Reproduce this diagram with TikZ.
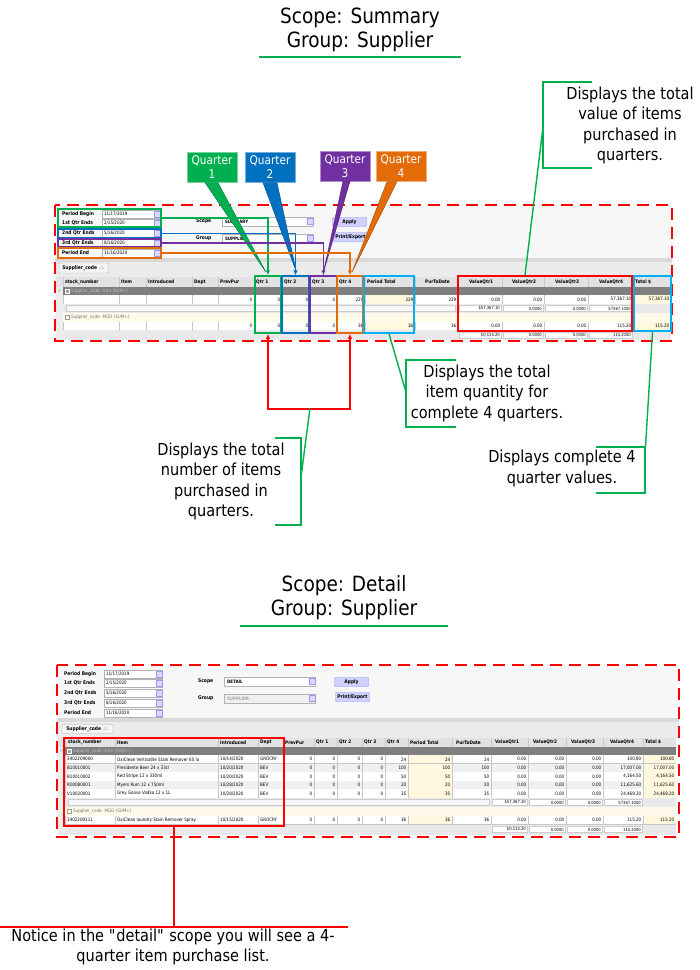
\documentclass[tikz,border=0pt]{standalone}
\usepackage{fontspec}
\setmainfont{DejaVu Sans}[FakeStretch=0.88]
\usetikzlibrary{calc}
\usetikzlibrary{arrows.meta}

\definecolor{qgreen}{HTML}{00B050}
\definecolor{qblue}{HTML}{0070C0}
\definecolor{qpurple}{HTML}{7030A0}
\definecolor{qorange}{HTML}{E36C09}
\definecolor{qcyan}{HTML}{00B0F0}
\definecolor{qred}{HTML}{FF0000}
\definecolor{panel}{HTML}{F7F7F7}
\definecolor{tabrow}{HTML}{EBEBEB}
\definecolor{hdrgray}{HTML}{E2E2E4}
\definecolor{grphead}{HTML}{7F7F7F}
\definecolor{cream}{HTML}{FFF8DF}
\definecolor{sumgray}{HTML}{E9E9EB}
\definecolor{altrow}{HTML}{F0F0F3}

% top part of the report screen: filters, scope, group, buttons
\newcommand{\filterform}[3]{%
  \foreach \y/\lab/\dat [count=\i] in {214/{Period Begin}/{11/17/2019},
      223/{1st Qtr Ends}/{2/15/2020}, 233/{2nd Qtr Ends}/{5/16/2020},
      243/{3rd Qtr Ends}/{8/16/2020}, 253/{Period End}/{11/16/2020}} {
    \node[lab] (fl\i) at (62,\y) {\lab};
    \node[field, minimum width=58, minimum height=8] (fd\i) at (131,\y) {};
    \node[cell, anchor=west] (fv\i) at ([xshift=2]fd\i.west) {\dat};
    \node[ddbtn] (fb\i) at ([xshift=-3]fd\i.east) {};
  }
  \node[lab] (sl) at (196,221) {Scope};
  \node[field, minimum width=91, minimum height=9] (sf) at (267.5,221.5) {};
  \node[cell, anchor=west, font=\fontsize{4.6}{5.5}\selectfont\bfseries] (sv) at ([xshift=3]sf.west) {#1};
  \node[ddbtn] (sb) at ([xshift=-3.5]sf.east) {};
  \node[lab] (gl) at (196,238) {Group};
  \node[field, fill=#3, minimum width=91, minimum height=9] (gf) at (267.5,238.5) {};
  \node[cell, anchor=west, font=\fontsize{4.6}{5.5}\selectfont\bfseries] (gv) at ([xshift=3]gf.west) {#2};
  \node[ddbtn] (gb) at ([xshift=-3.5]gf.east) {};
  \node[btn] (apply) at (349.5,222) {Apply};
  \node[btn] (print) at (350.5,237) {Print/Export};
}

% one detail line of the lower table
\newcommand{\drow}[8]{%
  \fill[#8] (65,#1) rectangle (676,#1+8.6);
  \fill[cream] (408,#1) rectangle (452,#1+8.6);
  \fill[cream] (643,#1) rectangle (676,#1+8.6);
  \draw[sepl] (65,#1+8.6) -- (676,#1+8.6);
  \node[cell, anchor=west] at (67,#1+4.3) {#2};
  \node[cell, anchor=west] at (117,#1+4.3) {#3};
  \node[cell, anchor=west] at (220,#1+4.3) {#4};
  \node[cell, anchor=west] at (260,#1+4.3) {#5};
  \foreach \xr/\v in {314/0, 337/0, 362/0, 385/0, 408/{#6}, 452/{#6}, 491/{#6},
      528/0.00, 566/0.00, 603/0.00, 643/{#7}, 676/{#7}}
    \node[cell, anchor=east] at (\xr-1.5,#1+4.3) {\v};
}

% boxed totals under the value columns
\newcommand{\sumboxes}[2]{%
  \foreach \xa/\xb/\v in {#2} {
    \draw[black!20, fill=white] (\xa+1,#1-3) rectangle (\xb-1,#1+3);
    \node[cell, anchor=east, font=\fontsize{4.2}{5}\selectfont] at (\xb-2,#1) {\v};
  }
}

\begin{document}
\begin{tikzpicture}[
    x=1pt, y=-1pt,
    >={Latex[length=5pt,width=4.5pt]},
    lab/.style={font=\fontsize{5}{6}\selectfont\bfseries, inner sep=0, anchor=west},
    cell/.style={font=\fontsize{4.6}{5.5}\selectfont, inner sep=0},
    hdr/.style={font=\fontsize{4.8}{5.5}\selectfont\bfseries, inner sep=0, anchor=west},
    field/.style={draw=black!30, fill=white, inner sep=0},
    ddbtn/.style={draw=blue!40, fill=blue!15, minimum size=6, inner sep=0},
    btn/.style={draw=blue!45, fill=blue!18, rounded corners=1, minimum width=34,
        minimum height=9, inner sep=0, font=\fontsize{5}{6}\selectfont\bfseries},
    sepl/.style={black!22, line width=0.4},
    qtag/.style={text=white, minimum width=50, minimum height=30, align=center,
        inner sep=0, font=\fontsize{12}{14}\selectfont},
    colbox/.style={draw=#1, line width=1.5, inner sep=0},
    frame/.style={draw=#1, line width=1.3, inner sep=0},
    qline/.style={draw=#1, line width=1.3, ->},
    brk/.style={qgreen, line width=1.4},
    redline/.style={qred, line width=1.8},
    dashbox/.style={qred, line width=2.6, dash pattern=on 12pt off 7pt},
    title/.style={align=center, inner sep=0, font=\fontsize{21}{24.5}\selectfont},
    note/.style={align=center, inner sep=0, font=\fontsize{16.5}{20.5}\selectfont}
  ]
  \useasboundingbox (0,0) rectangle (700,970);
  \fill[white] (0,0) rectangle (700,970);

  % ---------- summary ----------
  \node[title] (tsum) at (360,30) {Scope: Summary\\Group: Supplier};
  \draw[qgreen, line width=2] (259,57) -- (461,57);

  \fill[panel] (55,206) rectangle (672,258);
  \fill[black!15] (55,258) rectangle (672,262);
  \fill[tabrow] (55,262) rectangle (672,277);
  \node[draw=black!30, fill=black!4, rounded corners=1, minimum width=49, minimum height=10,
      inner sep=0, font=\fontsize{5}{6}\selectfont\bfseries] (stab) at (83.5,268) {Supplier\_code \textcolor{black!40}{$\scriptscriptstyle\triangle$}};
  \filterform{SUMMARY}{SUPPLIER}{white}

  \fill[hdrgray] (56,277) rectangle (671,287);
  \fill[black!7] (56,287) rectangle (63,340);
  \fill[grphead] (63,287) rectangle (671,295);
  \fill[white] (63,295) rectangle (671,304);
  \fill[cream] (365,295) rectangle (415,304);
  \fill[cream] (633,295) rectangle (671,304);
  \fill[sumgray] (63,304) rectangle (671,313);
  \draw[black!20, fill=black!3] (66,305.5) rectangle (455,311.5);
  \fill[cream!70] (63,313) rectangle (671,322);
  \fill[white] (63,322) rectangle (671,330);
  \fill[cream] (365,322) rectangle (415,330);
  \fill[cream] (633,322) rectangle (671,330);
  \fill[sumgray] (63,330) rectangle (671,340);
  \foreach \xa/\h/\dx [count=\i] in {63/stock\_number/2, 119/Item/2, 146/Introduced/2,
      192/Dept/2, 218/PrevPur/2, 254/Qtr 1/2, 282/Qtr 2/2, 310/Qtr 3/2, 337/Qtr 4/2,
      365/Period Total/2, 415/PurToDate/10, 458/ValueQtr1/11, 502/ValueQtr2/10,
      544/ValueQtr3/11, 588/ValueQtr4/11, 633/Total \$/2}
    \node[hdr] (th\i) at (\xa+\dx,282) {\h};
  \foreach \x in {63,119,146,192,218,254,282,310,337,365,415,458,502,544,588,633}
    \draw[sepl] (\x,277) -- (\x,287) (\x,295) -- (\x,304) (\x,322) -- (\x,330);
  \node[cell, text=black!50] (tind) at (59.5,291) {>};
  \draw[white, fill=black!35, line width=0.3] (65,289) rectangle (69,293);
  \node[cell, anchor=west, text=black!25] (tg1) at (71,291) {Supplier\_code: AAA (SUM=)};
  \draw[black!40, line width=0.3] (65,315.5) rectangle (69,319.5);
  \node[cell, anchor=west, text=black!55] (tg2) at (71,317.5) {Supplier\_code: MGD (SUM=)};
  \foreach \xr/\v in {254/0, 282/0, 310/0, 337/0, 365/229, 415/229, 458/229, 502/0.00,
      544/0.00, 588/0.00, 633/{57,367.10}, 671/{57,367.10}}
    \node[cell, anchor=east] at (\xr-1.5,299.5) {\v};
  \foreach \xr/\v in {254/0, 282/0, 310/0, 337/0, 365/36, 415/36, 458/36, 502/0.00,
      544/0.00, 588/0.00, 633/115.20, 671/115.20}
    \node[cell, anchor=east] at (\xr-1.5,326) {\v};
  \sumboxes{308.5}{458/502/{\$57,367.10}, 502/544/0.0000, 544/588/0.0000, 588/633/57367.1000}
  \sumboxes{335}{458/502/{\$0,115.20}, 502/544/0.0000, 544/588/0.0000, 588/633/115.2000}

  \draw[dashbox] (55,205) rectangle (672,341);

  % period frames and the columns they feed
  \node[frame=qgreen, minimum width=103, minimum height=18] (fq1) at (109.5,218) {};
  \node[frame=qblue, minimum width=103, minimum height=9] (fq2) at (109.5,233.5) {};
  \node[frame=qpurple, minimum width=103, minimum height=8] (fq3) at (109.5,243) {};
  \node[frame=qorange, minimum width=103, minimum height=10] (fq4) at (109.5,253) {};

  \node[colbox=qgreen, minimum width=26, minimum height=57] (cq1) at (268,304.5) {};
  \node[colbox=qblue, minimum width=27, minimum height=57] (cq2) at (295.5,304.5) {};
  \node[colbox=qpurple, minimum width=27, minimum height=57] (cq3) at (323.5,304.5) {};
  \node[colbox=qorange, minimum width=26, minimum height=57] (cq4) at (350,304.5) {};
  \node[colbox=qcyan, minimum width=50, minimum height=57] (cpt) at (389,304.5) {};
  \node[colbox=qred, minimum width=174, minimum height=55] (cvq) at (545,303.5) {};
  \node[colbox=qcyan, minimum width=37, minimum height=55] (ctot) at (652.5,303.5) {};

  % quarter tags
  \node[qtag, fill=qgreen, draw=qgreen!55] (tq1) at (212,167.5) {Quarter\\1};
  \node[qtag, fill=qblue, draw=qblue!55] (tq2) at (270,167.5) {Quarter\\2};
  \node[qtag, fill=qpurple, draw=qpurple!55] (tq3) at (345,166) {Quarter\\3};
  \node[qtag, fill=qorange, draw=qorange!55] (tq4) at (401,166.5) {Quarter\\4};
  \filldraw[fill=qgreen, draw=qgreen!70!black, line width=0.4]
    ($(tq1.south)+(-7,0)$) -- ($(tq1.south)+(6,0)$) -- ($(cq1.north)+(-2,-3)$) -- cycle;
  \filldraw[fill=qblue, draw=qblue!70!black, line width=0.4]
    ($(tq2.south)+(-7,0)$) -- ($(tq2.south)+(7,0)$) -- ($(cq2.north)+(1,-3)$) -- cycle;
  \filldraw[fill=qpurple, draw=qpurple!70!black, line width=0.4]
    ($(tq3.south)+(-2,0)$) -- ($(tq3.south)+(5,0)$) -- ($(cq3.north)+(0,-3)$) -- cycle;
  \filldraw[fill=qorange, draw=qorange!70!black, line width=0.4]
    ($(tq4.south)+(-14,0)$) -- ($(tq4.south)+(-4,0)$) -- ($(cq4.north)+(2,-3)$) -- cycle;

  \draw[qline=qgreen] (fq1.east) -| (cq1.north);
  \draw[qline=qblue] (fq2.east) -| (cq2.north);
  \draw[qline=qpurple] (fq3.east) -| (cq3.north);
  \draw[qline=qorange] (fq4.east) -| (cq4.north);
  \fill[qblue] (cq1.north |- fq2.east) circle (1.6);
  \fill[qpurple] (cq1.north |- fq3.east) circle (1.6);
  \fill[qorange] (cq1.north |- fq4.east) circle (1.6);
  \fill[qpurple] (cq2.north |- fq3.east) circle (1.6);
  \fill[qorange] (cq2.north |- fq4.east) circle (1.6);
  \fill[qorange] (cq3.north |- fq4.east) circle (1.6);

  % callouts
  \node[note] (nval) at (630,125.5) {Displays the total\\value of items\\purchased in\\quarters.};
  \draw[brk] (592,82) -- (543,82) -- (543,168) -- (592,168);
  \coordinate (kval) at (543,127);
  \draw[brk] (kval) -- ($(cvq.north)+(-20,0)$);

  \draw[redline, <->] (cq1.south) -- ++(0,75) -| (cq4.south);
  \coordinate (kqty) at (310,408);
  \node[note] (nqty) at (221,481.5) {Displays the total\\number of items\\purchased in\\quarters.};
  \draw[brk] (275,438) -- (301,438) -- (301,525) -- (275,525);
  \draw[brk] (kqty) -- (301,477);

  \node[note] (npt) at (487,393) {Displays the total\\item quantity for\\complete 4 quarters.};
  \draw[brk] (456,360) -- (406,360) -- (406,427) -- (456,427);
  \draw[brk] (cpt.south) -- (406,392);

  \node[note] (ntot) at (562,468.5) {Displays complete 4\\quarter values.};
  \draw[brk] (596,447) -- (645,447) -- (645,493) -- (596,493);
  \draw[brk] (ctot.south) -- (645.5,447);

  % ---------- detail ----------
  \node[title] (tdet) at (344,597.5) {Scope: Detail\\Group: Supplier};
  \draw[qgreen, line width=2] (240,626) -- (448,626);

  \fill[panel] (57,666) rectangle (679,718);
  \fill[black!15] (57,718) rectangle (679,722);
  \fill[tabrow] (57,722) rectangle (679,738);
  \node[draw=black!30, fill=black!4, rounded corners=1, minimum width=51, minimum height=9,
      inner sep=0, font=\fontsize{5}{6}\selectfont\bfseries] (dtab) at (87.5,729) {Supplier\_code \textcolor{black!40}{$\scriptscriptstyle\triangle$}};
  \begin{scope}[shift={(2,460)}]
    \filterform{DETAIL}{\textcolor{black!35}{SUPPLIER}}{black!6}
  \end{scope}

  \fill[hdrgray] (58,738) rectangle (676,747);
  \fill[black!7] (58,747) rectangle (65,835);
  \fill[grphead] (65,747) rectangle (676,755);
  \drow{755}{3402209000}{OxiClean Vertisatile Stain Remover 65 lo}{10/14/2020}{GROCRY}{24}{100.80}{white}
  \drow{763.6}{B10010001}{Presidente Beer 24 x 33cl}{10/20/2020}{BEV}{100}{17,007.00}{altrow}
  \drow{772.2}{B10010002}{Red Stripe 12 x 330ml}{10/20/2020}{BEV}{50}{4,164.50}{white}
  \drow{780.8}{R00080001}{Myers Rum 12 x 750ml}{10/28/2020}{BEV}{20}{11,625.60}{altrow}
  \drow{789.4}{V10020001}{Grey Goose Vodka 12 x 1L}{10/28/2020}{BEV}{35}{24,469.20}{white}
  \fill[sumgray] (65,798) rectangle (676,807);
  \draw[black!20, fill=black!3] (68,799.5) rectangle (489,805.5);
  \fill[cream!70] (65,807) rectangle (676,816);
  \drow{816}{3402209111}{OxiClean laundry Stain Remover Spray}{10/15/2020}{GROCRY}{36}{115.20}{white}
  \fill[sumgray] (65,824.6) rectangle (676,835);
  \foreach \xa/\h/\dx [count=\i] in {65/stock\_number/3, 115/Item/2, 218/Introduced/2,
      258/Dept/2, 283/PrevPur/2, 314/Qtr 1/2, 337/Qtr 2/2, 362/Qtr 3/2, 385/Qtr 4/2,
      408/Period Total/2, 452/PurToDate/4, 491/ValueQtr1/4, 528/ValueQtr2/5,
      566/ValueQtr3/5, 603/ValueQtr4/7, 643/Total \$/2}
    \node[hdr] (dh\i) at (\xa+\dx,742.5) {\h};
  \foreach \x in {65,115,218,258,283,314,337,362,385,408,452,491,528,566,603,643}
    \draw[sepl] (\x,738) -- (\x,747) (\x,755) -- (\x,798) (\x,816) -- (\x,824.6);
  \node[cell, text=black!50] (dind) at (61.5,751) {>};
  \draw[white, fill=black!35, line width=0.3] (67,749) rectangle (71,753);
  \node[cell, anchor=west, text=black!25] (dg1) at (73,751) {Supplier\_code: AAA (SUM=)};
  \draw[black!40, line width=0.3] (67,809.5) rectangle (71,813.5);
  \node[cell, anchor=west, text=black!55] (dg2) at (73,811.5) {Supplier\_code: MGD (SUM=)};
  \sumboxes{802.5}{491/528/{\$57,367.10}, 528/566/0.0000, 566/603/0.0000, 603/643/57367.1000}
  \sumboxes{829.5}{491/528/{\$0,115.20}, 528/566/0.0000, 566/603/0.0000, 603/643/115.2000}

  \draw[dashbox] (57,665) rectangle (679,837);
  \node[colbox=qred, minimum width=220, minimum height=88] (citem) at (174,782) {};

  \node[note] (nlist) at (173,947) {Notice in the \textquotedbl detail\textquotedbl\ scope you will see a 4-\\quarter item purchase list.};
  \coordinate (klist) at (citem.south |- 0,927);
  \draw[redline] (0,927) -- (348,927);
  \draw[redline] (citem.south) -- (klist);
\end{tikzpicture}
\end{document}
